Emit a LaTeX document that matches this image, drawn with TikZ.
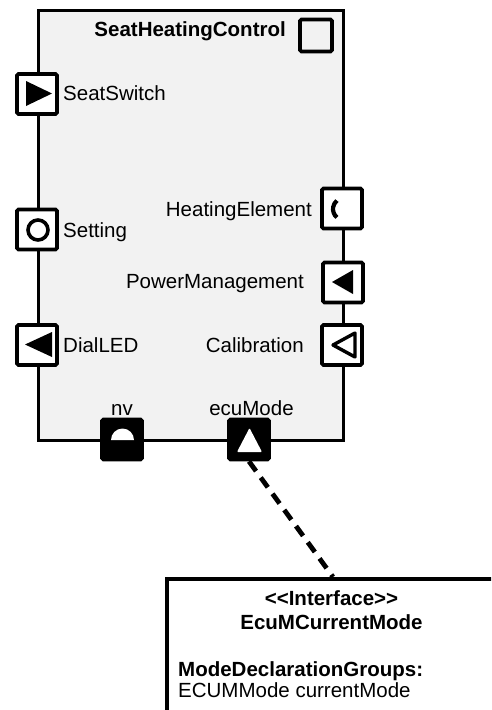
\documentclass[tikz,border=0pt]{standalone}
\usepackage{fontspec}
\setmainfont{Liberation Sans}
\begin{document}
\begin{tikzpicture}[x=1pt,y=-1pt,
  lbl/.style={inner sep=0pt,font=\fontsize{20.5}{24}\selectfont},
  blbl/.style={lbl,font=\fontsize{20.5}{24}\selectfont\bfseries},
  port/.style={draw=black,line width=3.8pt,fill=white,minimum size=40pt,inner sep=0pt,rounded corners=1.5pt},
  bport/.style={port,fill=black},
  dashline/.style={line width=4.8pt,dash pattern=on 12pt off 8pt},
]
\useasboundingbox (0,0) rectangle (491,710);
\clip (0,0) rectangle (491,710);
% component
\node[draw=black,line width=3.4pt,fill=black!5,minimum width=305pt,minimum height=430pt,inner sep=0pt,anchor=north west] (comp) at (37,9) {};
\node[draw=black,line width=3.6pt,minimum size=32pt,inner sep=0pt,rounded corners=1.5pt] (icon) at (316,35.5) {};
\node[blbl,anchor=base east] (title) at (286,36) {SeatHeatingControl};
% ports
\node[port] (seatswitch) at (37,94) {};
\node[port] (setting) at (37,229.5) {};
\node[port] (dialled) at (37,345) {};
\node[port] (heating) at (342,208.5) {};
\node[port] (power) at (343,282.5) {};
\node[port] (calib) at (342,345) {};
\node[bport] (nv) at (122,439.5) {};
\node[bport] (ecumode) at (249,439.5) {};
% port symbols
\fill (26,81) -- (26,106) -- (52,93.5) -- cycle;
\draw[line width=3.6pt] (38,230) circle (10);
\fill (52,332) -- (52,357) -- (25,344.5) -- cycle;
\draw[line width=4.2pt] (344,209) ++(130:11) arc (130:230:11);
\fill (353,270) -- (353,294) -- (332,282) -- cycle;
\draw[line width=3.4pt,line join=round] (355,333) -- (355,357) -- (333,345) -- cycle;
\fill[white] (111,440) arc (180:360:11.5) -- cycle;
\fill[white,rounded corners=1pt] (237,452) -- (262,452) -- (249.5,428) -- cycle;
% labels
\node[lbl,anchor=base west] (l1) at (63,100) {SeatSwitch};
\node[lbl,anchor=base west] (l2) at (63,237) {Setting};
\node[lbl,anchor=base west] (l3) at (63,352) {DialLED};
\node[lbl,anchor=base east] (l4) at (312,216) {HeatingElement};
\node[lbl,anchor=base east] (l5) at (304,288) {PowerManagement};
\node[lbl,anchor=base east] (l6) at (304,352) {Calibration};
\node[lbl,anchor=base] (l7) at (122,415) {nv};
\node[lbl,anchor=base] (l8) at (251.5,415) {ecuMode};
% interface
\node[draw=black,line width=4pt,fill=white,minimum width=332pt,minimum height=200pt,inner sep=0pt,anchor=north west] (iface) at (165,577) {};
\node[blbl,anchor=base] (i1) at (331.5,605) {<{}<Interface>{}>};
\node[blbl,anchor=base] (i2) at (331.5,629) {EcuMCurrentMode};
\node[blbl,anchor=base west] (i3) at (178,676) {ModeDeclarationGroups:};
\node[lbl,anchor=base west] (i4) at (178,697) {ECUMMode currentMode};
\draw[dashline] (ecumode.south) -- (iface.north);
\end{tikzpicture}
\end{document}
